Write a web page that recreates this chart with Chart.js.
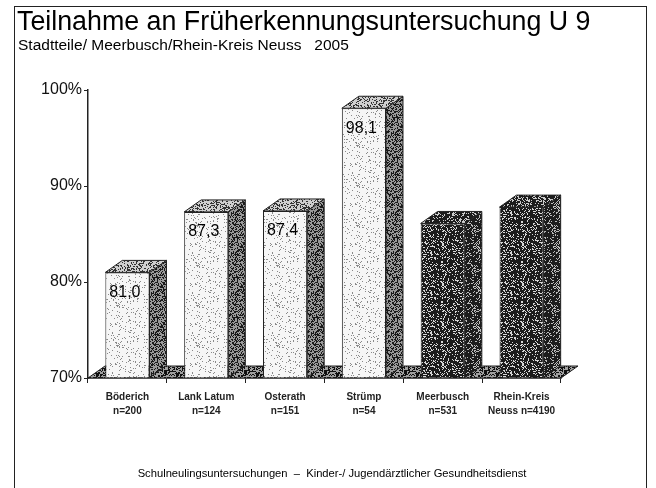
<!DOCTYPE html>
<html>
<head>
<meta charset="utf-8">
<script src="https://cdn.jsdelivr.net/npm/chart.js@4.4.1/dist/chart.umd.min.js"></script>
<style>
  body { margin: 0; background: #fff; }
  #wrap { position: relative; width: 656px; height: 488px; overflow: hidden; background: #fff;
          font-family: "Liberation Sans", Arial, sans-serif; color: #000; }
  #frame { position: absolute; left: 14px; top: 6px; width: 631px; height: 530px; border: 1.5px solid #222; }
  #title { position: absolute; left: 17px; top: 6px; font-size: 26.8px; line-height: 30px; white-space: nowrap; }
  #sub { position: absolute; left: 18px; top: 36px; font-size: 15.5px; line-height: 18px; white-space: nowrap; }
  #foot { position: absolute; left: 4px; width: 656px; top: 465px; text-align: center; font-size: 11.2px;
          line-height: 16px; white-space: nowrap; }
  canvas { position: absolute; left: 0; top: 0; }
</style>
</head>
<body>
<div id="wrap">
  <div id="frame"></div>
  <canvas id="myChart" width="656" height="488"></canvas>
  <div id="title">Teilnahme an Früherkennungsuntersuchung U 9</div>
  <div id="sub">Stadtteile/ Meerbusch/Rhein-Kreis Neuss&nbsp;&nbsp;&nbsp;2005</div>
  <div id="foot">Schulneulingsuntersuchungen&nbsp;&nbsp;–&nbsp;&nbsp;Kinder-/ Jugendärztlicher Gesundheitsdienst</div>
</div>
<script>
// data
const categories = [
    ['Böderich', 'n=200'],
    ['Lank Latum', 'n=124'],
    ['Osterath', 'n=151'],
    ['Strümp', 'n=54'],
    ['Meerbusch', 'n=531'],
    ['Rhein-Kreis', 'Neuss n=4190'],
];
const participation = [81.0, 87.3, 87.4, 98.1, 86.1, 87.8];
const showValue = [true, true, true, true, false, false];
const yTicks = [70, 80, 90, 100];

// look
const shade = ['light', 'light', 'light', 'light', 'dark', 'dark'];
const DX = 17, DY = 12;

let canvas = document.getElementById('myChart');
let ctx = canvas.getContext('2d');

// scanned-paper speckle, fixed hash dither
function speckle(bg, dot, density, seed) {
    let c = document.createElement('canvas');
    c.width = c.height = 40;
    let g = c.getContext('2d');
    g.fillStyle = bg;
    g.fillRect(0, 0, 40, 40);
    g.fillStyle = dot;
    for (let i = 0; i < 40; i++) {
        for (let j = 0; j < 40; j++) {
            let h = (i * 374761393 + j * 668265263 + seed * 1442695041) | 0;
            h = Math.imul(h ^ (h >>> 13), 1274126177);
            h = (h ^ (h >>> 16)) >>> 0;
            if ((h % 1000) / 1000 < density) g.fillRect(i, j, 1, 1);
        }
    }
    return ctx.createPattern(c, 'repeat');
}

const fill = {
    light: { front: speckle('#f6f6f6', '#8a8a8a', 0.08, 1), side: speckle('#9a9a9a', '#1a1a1a', 0.45, 2), top: speckle('#cfcfcf', '#333', 0.35, 3) },
    dark:  { front: speckle('#1c1c1c', '#d8d8d8', 0.22, 4), side: speckle('#1c1c1c', '#bbbbbb', 0.25, 5), top: speckle('#1c1c1c', '#cccccc', 0.25, 6) },
};
const floorFill = speckle('#a0a0a0', '#111', 0.45, 7);

function poly(pts, f) {
    ctx.beginPath();
    ctx.moveTo(pts[0][0], pts[0][1]);
    for (let k = 1; k < pts.length; k++) ctx.lineTo(pts[k][0], pts[k][1]);
    ctx.closePath();
    ctx.fillStyle = f;
    ctx.fill();
    ctx.lineWidth = 1;
    ctx.strokeStyle = '#222';
    ctx.stroke();
}

const depth = {
    id: 'depth',
    beforeDatasetsDraw(chart) {
        const a = chart.chartArea;
        ctx.save();
        poly([[a.left, a.bottom], [a.left + DX, a.bottom - DY], [a.right + DX, a.bottom - DY], [a.right, a.bottom]], floorFill);
        ctx.restore();
    },
    afterDatasetsDraw(chart) {
        ctx.save();
        chart.getDatasetMeta(0).data.forEach((bar, i) => {
            const { x, y, base, width } = bar.getProps(['x', 'y', 'base', 'width'], true);
            const l = x - width / 2, r = x + width / 2;
            const f = fill[shade[i]];
            poly([[r, y], [r + DX, y - DY], [r + DX, base - DY], [r, base]], f.side);
            poly([[l, y], [l + DX, y - DY], [r + DX, y - DY], [r, y]], f.top);
            if (showValue[i]) {
                ctx.fillStyle = '#000';
                ctx.font = '16px "Liberation Sans", Arial, sans-serif';
                ctx.textAlign = 'left';
                ctx.textBaseline = 'middle';
                ctx.fillText(participation[i].toFixed(1).replace('.', ','), l + 4, y + 20);
            }
        });
        ctx.restore();
    }
};

const data = {
    labels: categories,
    datasets: [{
        data: participation,
        backgroundColor: shade.map(s => fill[s].front),
        borderColor: '#222',
        borderWidth: 1,
        barPercentage: 1,
        categoryPercentage: 0.56,
        base: 70,
    }]
};

const config = {
    type: 'bar',
    data: data,
    options: {
        responsive: false,
        animation: false,
        layout: { padding: { top: 90, right: 95, left: 0, bottom: 0 } },
        plugins: { legend: { display: false }, tooltip: { enabled: false } },
        scales: {
            x: {
                afterFit(s) { s.height = 110; },
                grid: { drawOnChartArea: false, tickLength: 5, color: '#222' },
                border: { color: '#111', width: 1.5 },
                ticks: {
                    autoSkip: false, maxRotation: 0, padding: 7, color: '#222',
                    font: { family: '"Liberation Sans", Arial, sans-serif', size: 10, weight: 'bold', lineHeight: 1.4 }
                }
            },
            y: {
                min: 70, max: 100,
                afterFit(s) { s.width = 88; },
                afterBuildTicks(s) { s.ticks = yTicks.map(v => ({ value: v })); },
                grid: { drawOnChartArea: false, tickLength: 4, color: '#222' },
                border: { color: '#222', width: 1.5, dash: [1, 1] },
                ticks: {
                    padding: 2, color: '#111',
                    font: { family: '"Liberation Sans", Arial, sans-serif', size: 16 },
                    callback: v => v + '%'
                }
            }
        }
    },
    plugins: [depth]
};

new Chart(canvas, config);
</script>
</body>
</html>
